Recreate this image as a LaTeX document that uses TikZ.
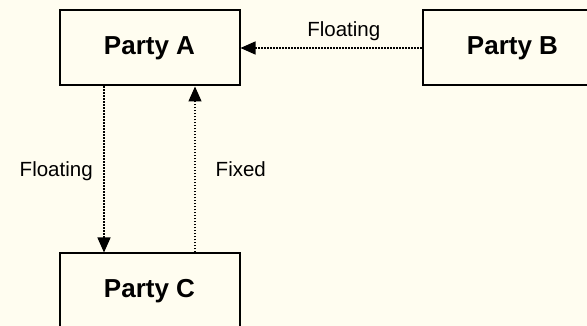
\documentclass[tikz,border=0pt]{standalone}
\usepackage{fontspec}
\setmainfont{Liberation Sans}
\usetikzlibrary{arrows.meta}
\definecolor{paper}{RGB}{255,253,240}
\tikzset{
  party/.style={draw=black, line width=2pt, fill=paper, rectangle,
    minimum width=180pt, minimum height=75pt, inner sep=0pt,
    font=\fontsize{26}{30}\selectfont\bfseries},
  flow/.style={line width=1.4pt, dash pattern=on 1.4pt off 1.6pt,
    -{Triangle[length=15pt,width=13pt]}},
  lbl/.style={font=\fontsize{20.5}{24}\selectfont, inner sep=0pt, anchor=base}
}
\begin{document}
\begin{tikzpicture}[x=1pt,y=-1pt]
  \useasboundingbox (0,0) rectangle (587,326);
  \clip (0,0) rectangle (587,326);
  \fill[paper] (0,0) rectangle (587,326);

  % parties
  \node[party] (A) at (149.5,48) {Party A};
  \node[party] (B) at (512.5,48) {Party B};
  \node[party] (C) at (149.5,291) {Party C};

  % payment flows
  \draw[flow] (B.west) -- (A.east);
  \draw[flow] ([xshift=-45.5pt]A.south) -- ([xshift=-45.5pt]C.north);
  \draw[flow] ([xshift=45.5pt]C.north) -- ([xshift=45.5pt]A.south);

  % flow labels
  \node[lbl] (lb) at (343.8,36.5) {Floating};
  \node[lbl] (lf) at (56.2,177) {Floating};
  \node[lbl] (lx) at (240.8,177) {Fixed};
\end{tikzpicture}
\end{document}
